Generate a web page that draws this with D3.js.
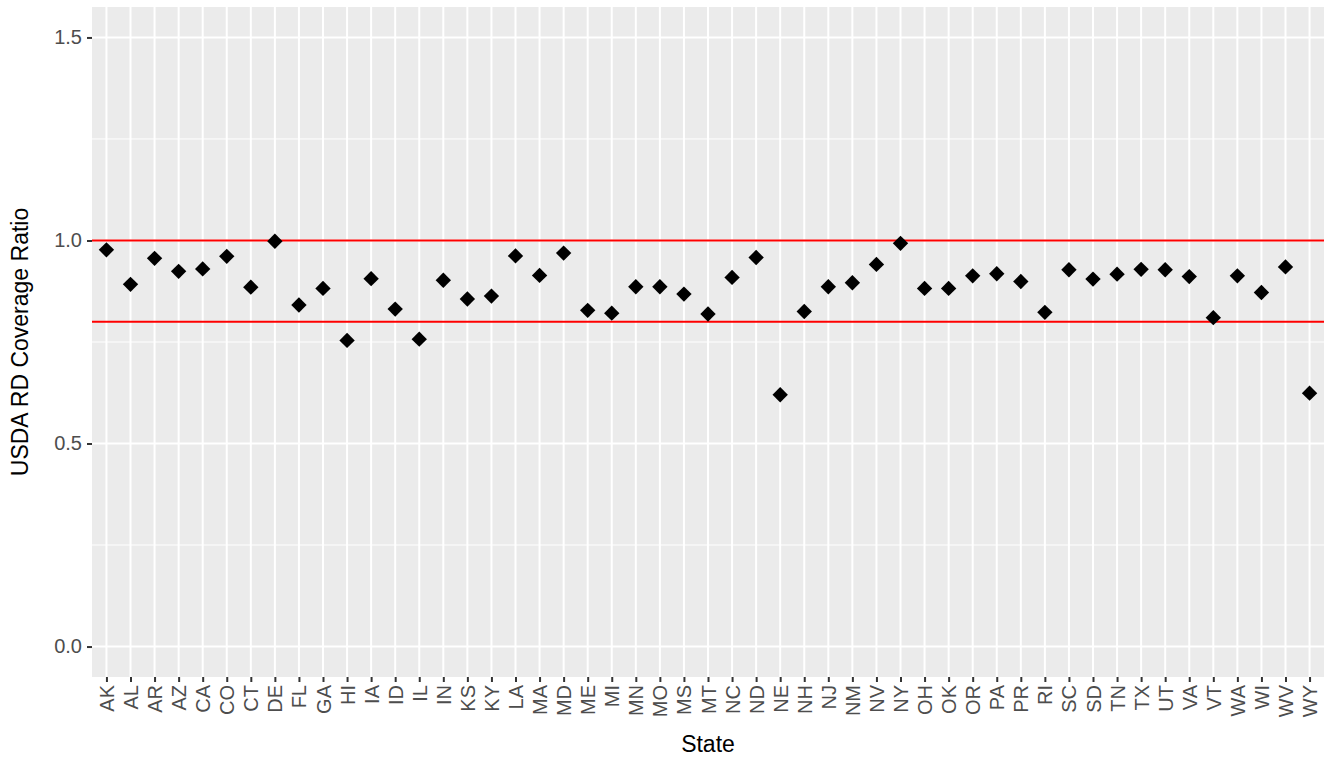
<!DOCTYPE html>
<html>
<head>
<meta charset="utf-8">
<script src="https://cdn.jsdelivr.net/npm/d3@7"></script>
<style>
  body { margin: 0; background: #fff; }
  text { font-family: "Liberation Sans", Arial, sans-serif; }
</style>
</head>
<body>
<div class="content"></div>
<script>
const [svgWidth, svgHeight] = [1338, 757];

// data
const states = ['AK', 'AL', 'AR', 'AZ', 'CA', 'CO', 'CT', 'DE', 'FL', 'GA', 'HI', 'IA', 'ID',
  'IL', 'IN', 'KS', 'KY', 'LA', 'MA', 'MD', 'ME', 'MI', 'MN', 'MO', 'MS', 'MT', 'NC', 'ND',
  'NE', 'NH', 'NJ', 'NM', 'NV', 'NY', 'OH', 'OK', 'OR', 'PA', 'PR', 'RI', 'SC', 'SD', 'TN',
  'TX', 'UT', 'VA', 'VT', 'WA', 'WI', 'WV', 'WY'];
const ratios = [0.977, 0.892, 0.956, 0.924, 0.930, 0.961, 0.885, 0.998, 0.841, 0.882, 0.754,
  0.906, 0.831, 0.757, 0.902, 0.856, 0.863, 0.962, 0.914, 0.969, 0.828, 0.821, 0.886, 0.886,
  0.868, 0.819, 0.909, 0.958, 0.620, 0.825, 0.886, 0.896, 0.941, 0.993, 0.882, 0.882, 0.913,
  0.918, 0.899, 0.823, 0.928, 0.905, 0.917, 0.929, 0.928, 0.911, 0.810, 0.913, 0.872, 0.935,
  0.624];
const refLines = [1.0, 0.8];
const yTicks = [0, 0.5, 1.0, 1.5];
const yMinor = [0.25, 0.75, 1.25];
const yDomain = [-0.075, 1.575];

const panel = {left: 92, right: 1324, top: 7, bottom: 677};

const svg = d3.select('.content')
  .append('svg')
  .attr('width', svgWidth)
  .attr('height', svgHeight);

const x = d3.scalePoint()
  .domain(states)
  .range([panel.left, panel.right])
  .padding(0.6);
const y = d3.scaleLinear()
  .domain(yDomain)
  .range([panel.bottom, panel.top]);

svg.append('rect')
  .attr('x', panel.left)
  .attr('y', panel.top)
  .attr('width', panel.right - panel.left)
  .attr('height', panel.bottom - panel.top)
  .attr('fill', '#EBEBEB');

// grid
svg.selectAll('line.minor')
  .data(yMinor)
  .enter()
  .append('line')
  .classed('minor', true)
  .attr('x1', panel.left).attr('x2', panel.right)
  .attr('y1', d => y(d)).attr('y2', d => y(d))
  .attr('stroke', '#fff')
  .attr('stroke-width', 1);
svg.selectAll('line.hmajor')
  .data(yTicks)
  .enter()
  .append('line')
  .classed('hmajor', true)
  .attr('x1', panel.left).attr('x2', panel.right)
  .attr('y1', d => y(d)).attr('y2', d => y(d))
  .attr('stroke', '#fff')
  .attr('stroke-width', 2);
svg.selectAll('line.vmajor')
  .data(states)
  .enter()
  .append('line')
  .classed('vmajor', true)
  .attr('x1', d => x(d)).attr('x2', d => x(d))
  .attr('y1', panel.top).attr('y2', panel.bottom)
  .attr('stroke', '#fff')
  .attr('stroke-width', 2);

// red reference lines
svg.selectAll('line.ref')
  .data(refLines)
  .enter()
  .append('line')
  .classed('ref', true)
  .attr('x1', panel.left).attr('x2', panel.right)
  .attr('y1', d => y(d)).attr('y2', d => y(d))
  .attr('stroke', '#FF0000')
  .attr('stroke-width', 2);

// points (ggplot shape 18)
const diamond = d3.symbol().type(d3.symbolSquare).size(118);
svg.selectAll('path.pt')
  .data(states.map((s, i) => ({s, v: ratios[i]})))
  .enter()
  .append('path')
  .classed('pt', true)
  .attr('d', diamond)
  .attr('transform', d => `translate(${x(d.s)},${y(d.v)}) rotate(45)`)
  .attr('fill', '#000');

// axes
const yAxis = svg.append('g')
  .attr('transform', `translate(${panel.left},0)`)
  .call(d3.axisLeft(y).tickValues(yTicks).tickFormat(d3.format('.1f')).tickSize(5).tickPadding(5));
const xAxis = svg.append('g')
  .attr('transform', `translate(0,${panel.bottom})`)
  .call(d3.axisBottom(x).tickSize(5).tickPadding(3));
[yAxis, xAxis].forEach(g => {
  g.select('.domain').remove();
  g.selectAll('line').attr('stroke', '#333333').attr('stroke-width', 2);
  g.selectAll('text')
    .attr('fill', '#4D4D4D')
    .style('font-size', '20px')
    .style('font-family', '"Liberation Sans", Arial, sans-serif');
});
xAxis.selectAll('text')
  .attr('transform', 'rotate(-90)')
  .attr('x', -8)
  .attr('y', 0)
  .attr('dy', '0.35em')
  .attr('text-anchor', 'end');

// titles
svg.append('text')
  .attr('x', (panel.left + panel.right) / 2)
  .attr('y', 752)
  .attr('text-anchor', 'middle')
  .style('font-size', '23px')
  .text('State');
svg.append('text')
  .attr('transform', `translate(28,${(panel.top + panel.bottom) / 2}) rotate(-90)`)
  .attr('text-anchor', 'middle')
  .style('font-size', '23px')
  .text('USDA RD Coverage Ratio');
</script>
</body>
</html>
